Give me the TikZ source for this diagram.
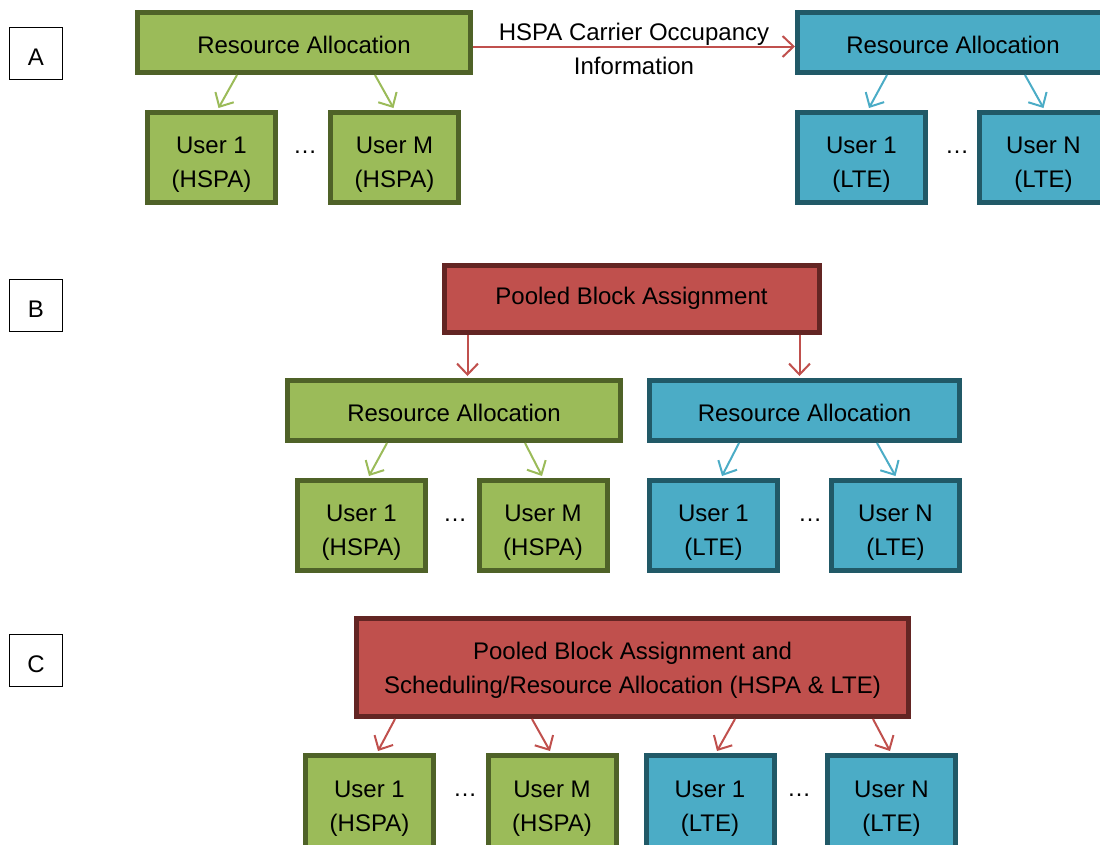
\documentclass[tikz,border=0pt]{standalone}
\usepackage{fontspec}
\setmainfont{Liberation Sans}
\usetikzlibrary{arrows.meta}
\definecolor{gfill}{HTML}{9BBB59}
\definecolor{gline}{HTML}{4F6228}
\definecolor{bfill}{HTML}{4BACC6}
\definecolor{bline}{HTML}{215967}
\definecolor{rfill}{HTML}{C0504D}
\definecolor{rline}{HTML}{632523}
\newcommand\padU{\rule{0pt}{30pt}}
\newcommand\padS{\rule{0pt}{21.5pt}}
\newcommand\padT{\rule{0pt}{24pt}}
\begin{document}
\begin{tikzpicture}[x=1pt,y=-1pt,
 every node/.style={font=\fontsize{24}{34}\selectfont, inner sep=0pt, align=center},
 box/.style={draw, line width=5pt, rectangle},
 gbox/.style={box, fill=gfill, draw=gline},
 bbox/.style={box, fill=bfill, draw=bline},
 rbox/.style={box, fill=rfill, draw=rline},
 ubox/.style={minimum width=128pt, minimum height=90pt},
 rabox/.style={minimum height=60pt},
 tag/.style={draw=black, line width=1pt, fill=white, minimum width=53pt, minimum height=52pt},
 conn/.style={line width=2pt, -{Straight Barb[length=11pt,width=21pt]}},
 garr/.style={conn, draw=gfill},
 barr/.style={conn, draw=bfill},
 rarr/.style={conn, draw=rfill},
 dotnode/.style={anchor=base}
]
\useasboundingbox (0,0) rectangle (1100,844);

% tags
\node[tag] (tA) at (36,53) {\padT A};
\node[tag] (tB) at (36,305) {\padT B};
\node[tag] (tC) at (36,660.5) {\padT C};

% ---------- Row A ----------
\node[gbox, rabox, minimum width=333pt] (gRAa) at (304,42.5) {\padS Resource Allocation};
\node[bbox, rabox, minimum width=311pt] (bRAa) at (953,42.5) {\padS Resource Allocation};
\node[gbox, ubox] (gU1a) at (211.5,157.5) {\padU User 1\\(HSPA)};
\node[gbox, ubox] (gUMa) at (394.5,157.5) {\padU User M\\(HSPA)};
\node[bbox, ubox] (bU1a) at (861.5,157.5) {\padU User 1\\(LTE)};
\node[bbox, ubox] (bUNa) at (1043.5,157.5) {\padU User N\\(LTE)};
\node[dotnode] (dga) at (305,153) {…};
\node[dotnode] (dba) at (957,153) {…};

\draw[rarr] ([yshift=-4pt]gRAa.east) -- node[yshift=-2pt] (lblA) {HSPA Carrier Occupancy\\Information} ([yshift=-4pt]bRAa.west);
\draw[garr] ([xshift=-67pt]gRAa.south) -- ([xshift=7pt,yshift=2pt]gU1a.north);
\draw[garr] ([xshift=71pt]gRAa.south) -- ([xshift=-1pt,yshift=2pt]gUMa.north);
\draw[barr] ([xshift=-66pt]bRAa.south) -- ([xshift=7.5pt,yshift=2pt]bU1a.north);
\draw[barr] ([xshift=72pt]bRAa.south) -- ([yshift=2pt]bUNa.north);

% ---------- Row B ----------
\node[rbox, minimum width=375pt, minimum height=67.5pt] (pba) at (631.5,298.75) {Pooled Block Assignment};
\node[gbox, rabox, minimum width=333pt] (gRAb) at (454,410.5) {\padS Resource Allocation};
\node[bbox, rabox, minimum width=310pt] (bRAb) at (804.5,410.5) {\padS Resource Allocation};
\node[gbox, ubox] (gU1b) at (361.5,525.5) {\padU User 1\\(HSPA)};
\node[gbox, ubox] (gUMb) at (543,525.5) {\padU User M\\(HSPA)};
\node[bbox, ubox] (bU1b) at (713.5,525.5) {\padU User 1\\(LTE)};
\node[bbox, ubox] (bUNb) at (895.5,525.5) {\padU User N\\(LTE)};
\node[dotnode] (dgb) at (455,521) {…};
\node[dotnode] (dbb) at (810,521) {…};

\draw[rarr] ([xshift=-164pt]pba.south) -- ([xshift=-164pt,yshift=2pt]pba.south |- gRAb.north);
\draw[rarr] ([xshift=168pt]pba.south) -- ([xshift=168pt,yshift=2pt]pba.south |- bRAb.north);
\draw[garr] ([xshift=-67pt]gRAb.south) -- ([xshift=7.5pt,yshift=2pt]gU1b.north);
\draw[garr] ([xshift=71pt]gRAb.south) -- ([xshift=-1pt,yshift=2pt]gUMb.north);
\draw[barr] ([xshift=-65.5pt]bRAb.south) -- ([xshift=8.5pt,yshift=2pt]bU1b.north);
\draw[barr] ([xshift=72.5pt]bRAb.south) -- ([yshift=2pt]bUNb.north);

% ---------- Row C ----------
\node[rbox, minimum width=552pt, minimum height=98pt] (pbc) at (632.5,667.5) {\rule{0pt}{23.5pt}Pooled Block Assignment and\\Scheduling/Resource Allocation (HSPA \& LTE)};
\node[gbox, ubox, minimum height=92pt] (gU1c) at (369.5,801.5) {\padU User 1\\(HSPA)};
\node[gbox, ubox, minimum height=92pt] (gUMc) at (552,801.5) {\padU User M\\(HSPA)};
\node[bbox, ubox, minimum height=92pt] (bU1c) at (710,801.5) {\padU User 1\\(LTE)};
\node[bbox, ubox, minimum height=92pt] (bUNc) at (891.5,801.5) {\padU User N\\(LTE)};
\node[dotnode] (dgc) at (465,796) {…};
\node[dotnode] (dbc) at (799,796) {…};

\draw[rarr] ([xshift=-237.5pt]pbc.south) -- ([xshift=8.5pt,yshift=2pt]gU1c.north);
\draw[rarr] ([xshift=-100.5pt]pbc.south) -- ([xshift=-2pt,yshift=2pt]gUMc.north);
\draw[rarr] ([xshift=102.5pt]pbc.south) -- ([xshift=7pt,yshift=2pt]bU1c.north);
\draw[rarr] ([xshift=240.5pt]pbc.south) -- ([xshift=-1.5pt,yshift=2pt]bUNc.north);
\end{tikzpicture}
\end{document}
